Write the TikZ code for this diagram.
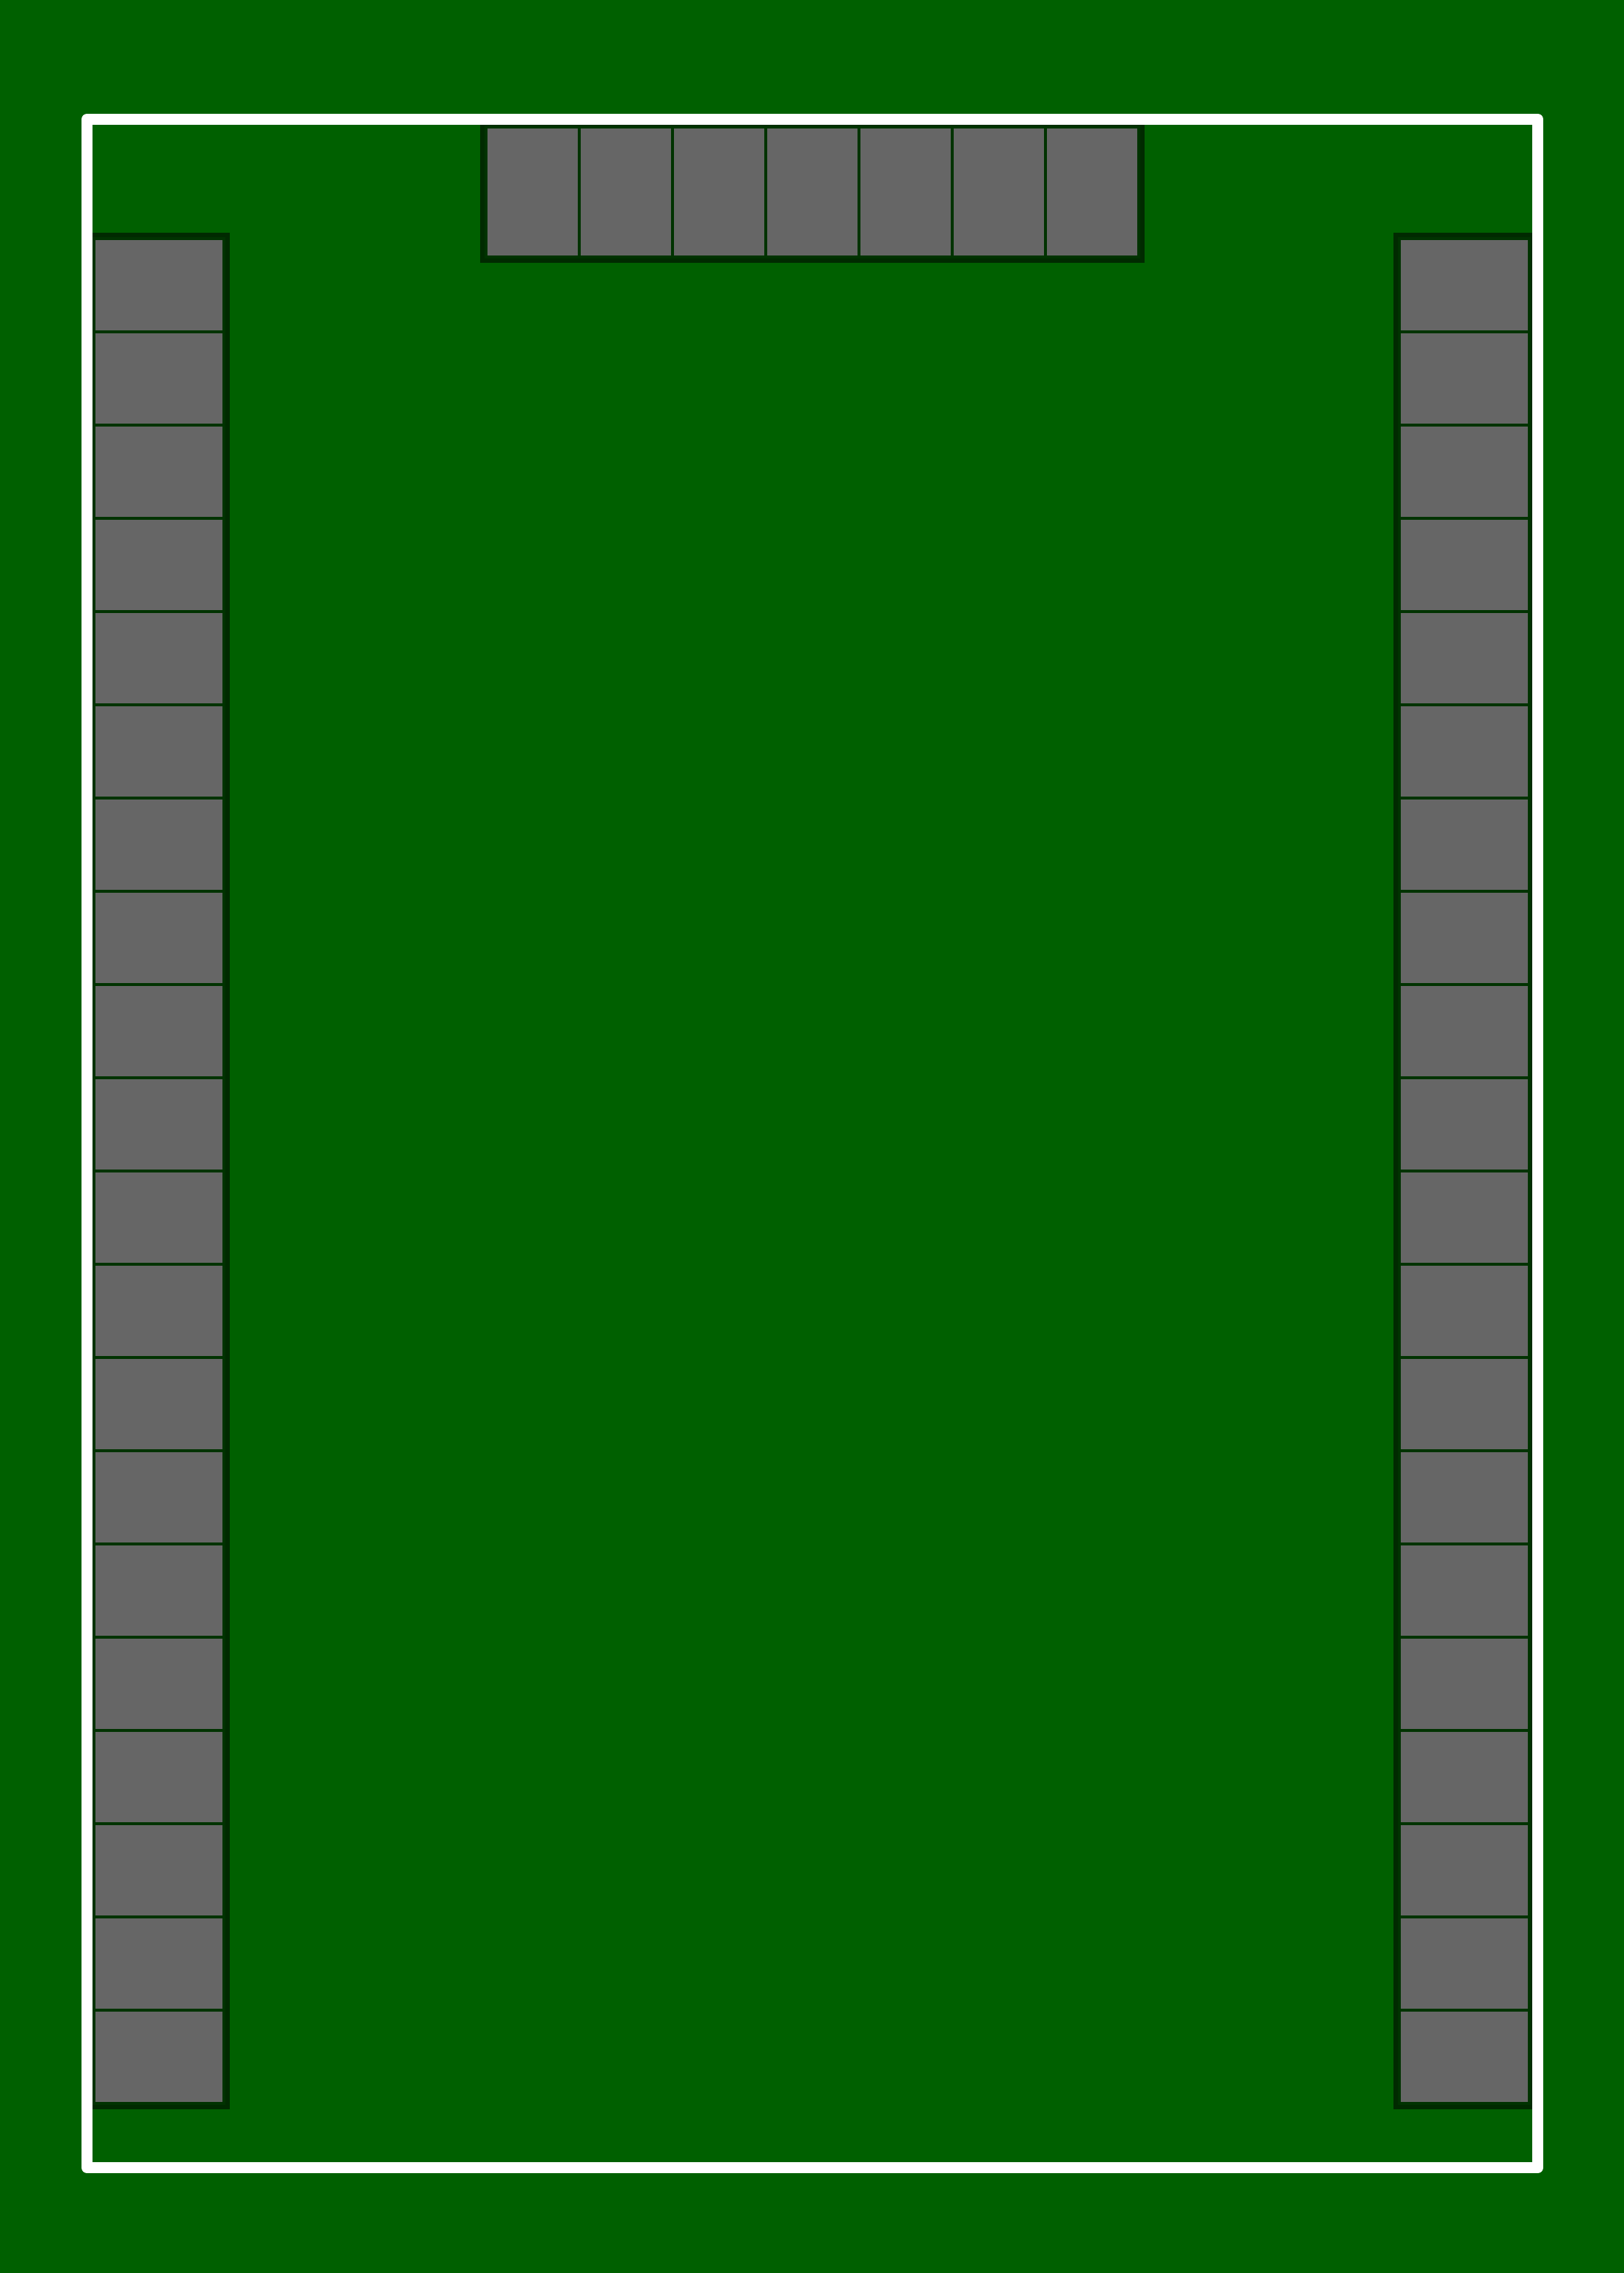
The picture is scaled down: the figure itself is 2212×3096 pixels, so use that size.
\documentclass[tikz,border=0pt]{standalone}
\usepackage{xcolor}
\usepackage{tikz}
\usetikzlibrary{positioning}
\definecolor{board}{HTML}{006000}
\definecolor{courtyard}{HTML}{002A00}
\definecolor{padedge}{HTML}{003300}
\definecolor{padgray}{HTML}{666666}

\begin{document}
\begin{tikzpicture}[
    x=0.01cm, y=-0.01cm,
    mask/.style={fill=courtyard, draw=none},
    pad/.style={fill=padgray, draw=padedge, line width=0.04cm},
    silk/.style={draw=white, line width=0.15cm, line join=round}
]

% board background, fixes the page size
\fill[board] (0,0) rectangle (2212,3096);
\useasboundingbox (0,0) rectangle (2212,3096);

% solder mask around the pad rows
\fill[mask] (120,317) rectangle (313,2873);
\fill[mask] (1898,317) rectangle (2091,2873);
\fill[mask] (654,165) rectangle (1559,358);

% left and right pad columns
\foreach \k in {0,...,19} {
    \draw[pad] (128,325+127*\k) rectangle (305,452+127*\k);
    \draw[pad] (1906,325+127*\k) rectangle (2083,452+127*\k);
}

% top pad row
\foreach \k in {0,...,6}
    \draw[pad] (662+127*\k,173) rectangle (789+127*\k,350);

% outline
\draw[silk] (118.5,162.5) rectangle (2094.5,2952.5);

\end{tikzpicture}
\end{document}
